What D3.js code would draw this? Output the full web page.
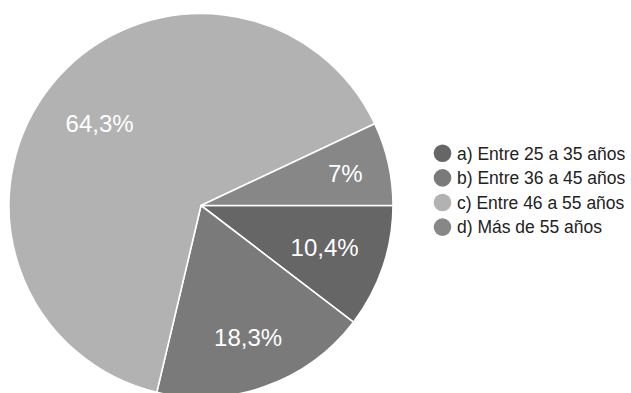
<!DOCTYPE html>
<html>
<head>
<meta charset="utf-8">
<script src="https://cdn.jsdelivr.net/npm/d3@7"></script>
<style>
  html, body { margin: 0; padding: 0; background: #fff; }
  svg { display: block; font-family: "Liberation Sans", Arial, sans-serif; }
</style>
</head>
<body>
<svg id="chart" width="631" height="393"></svg>
<script>
// Age groups and their share of responses (%)
const categories = [
  "a) Entre 25 a 35 años",
  "b) Entre 36 a 45 años",
  "c) Entre 46 a 55 años",
  "d) Más de 55 años"
];
const values = [10.4, 18.3, 64.3, 7];
const valueLabels = ["10,4%", "18,3%", "64,3%", "7%"];
const colors = ["#666666", "#7a7a7a", "#b2b2b2", "#878787"];

// Layout
const W = 631, H = 393;
const cx = 201, cy = 205.5, R = 192;
// label distance from the centre, as a fraction of the radius, per slice
const labelFrac = [0.68, 0.73, 0.68, 0.77];

const svg = d3.select("#chart");

const pie = d3.pie()
  .value(d => d)
  .sort(null)
  .startAngle(Math.PI / 2)
  .endAngle(Math.PI / 2 + 2 * Math.PI);

const arcs = pie(values);
const arc = d3.arc().innerRadius(0).outerRadius(R);

const g = svg.append("g").attr("transform", `translate(${cx},${cy})`);

g.selectAll("path.slice")
  .data(arcs)
  .join("path")
  .attr("class", "slice")
  .attr("d", arc)
  .attr("fill", (d, i) => colors[i])
  .attr("stroke", "#ffffff")
  .attr("stroke-width", 1.6)
  .attr("stroke-linejoin", "round");

g.selectAll("text.pct")
  .data(arcs)
  .join("text")
  .attr("class", "pct")
  .attr("transform", (d, i) => {
    const r = R * labelFrac[i];
    const c = d3.arc().innerRadius(r).outerRadius(r).centroid(d);
    return `translate(${c[0]},${c[1]})`;
  })
  .attr("text-anchor", "middle")
  .attr("dy", "0.36em")
  .attr("fill", "#ffffff")
  .attr("font-size", 24)
  .text((d, i) => valueLabels[i]);

// Legend
const legend = svg.append("g").attr("transform", "translate(442.5,153.3)");
const rowH = 24.6;

const rows = legend.selectAll("g.row")
  .data(categories)
  .join("g")
  .attr("class", "row")
  .attr("transform", (d, i) => `translate(0,${i * rowH})`);

rows.append("circle")
  .attr("r", 8.8)
  .attr("fill", (d, i) => colors[i]);

rows.append("text")
  .attr("x", 14.5)
  .attr("dy", "0.36em")
  .attr("fill", "#222222")
  .attr("font-size", 17.5)
  .text(d => d);
</script>
</body>
</html>
